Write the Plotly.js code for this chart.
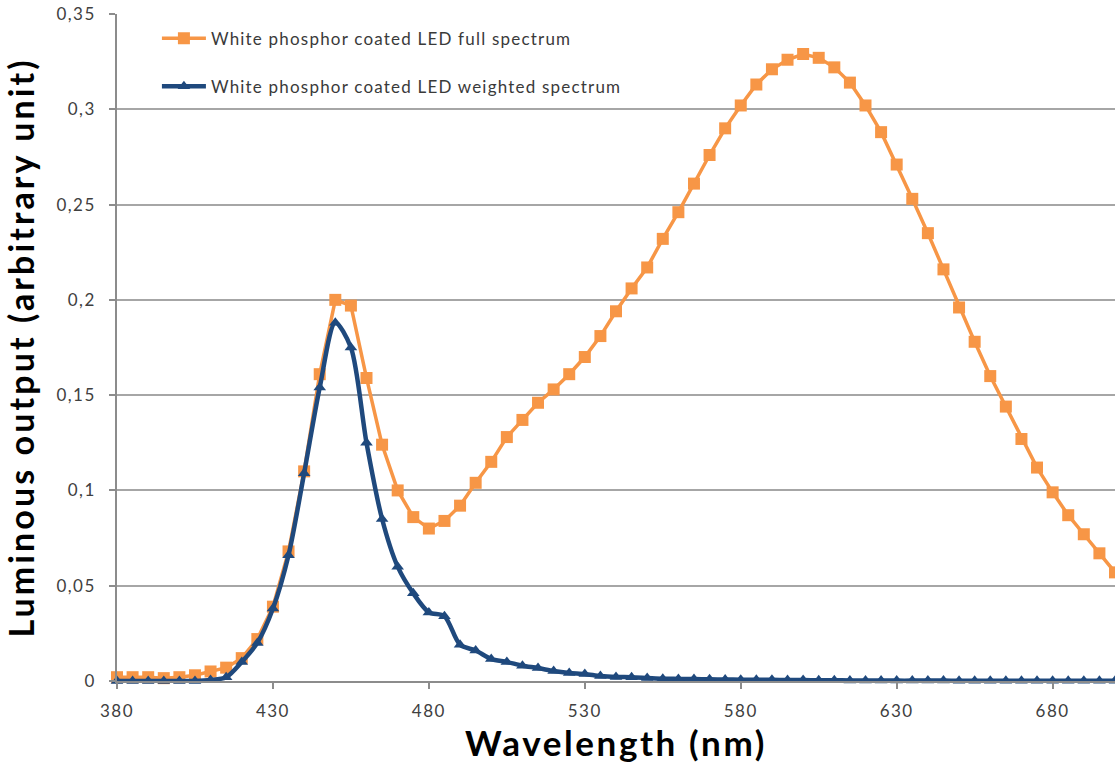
<!DOCTYPE html>
<html>
<head>
<meta charset="utf-8">
<script src="https://cdn.plot.ly/plotly-3.0.1.min.js"></script>
<style>
html,body{margin:0;padding:0;background:#fff;}
#chart{width:1115px;height:774px;}
.xtick text, .ytick text, text.xtick, text.ytick {letter-spacing: 1.5px;}
.legendtext {letter-spacing: 1.2px;}
.xtitle {letter-spacing: 2.6px;}
.ytitle {letter-spacing: 3.1px;}
</style>
</head>
<body>
<div id="chart"></div>
<script>
const wavelengths = [380,385,390,395,400,405,410,415,420,425,
  430,435,440,445,450,455,460,465,470,475,
  480,485,490,495,500,505,510,515,520,525,
  530,535,540,545,550,555,560,565,570,575,
  580,585,590,595,600,605,610,615,620,625,
  630,635,640,645,650,655,660,665,670,675,
  680,685,690,695,700];

const fullSpectrum = [0.002,0.002,0.002,0.0015,0.002,0.003,0.005,0.007,0.012,0.022,
  0.039,0.068,0.110,0.161,0.200,0.197,0.159,0.124,0.100,0.086,
  0.080,0.084,0.092,0.104,0.115,0.128,0.137,0.146,0.153,0.161,
  0.170,0.181,0.194,0.206,0.217,0.232,0.246,0.261,0.276,0.290,
  0.302,0.313,0.321,0.326,0.329,0.327,0.322,0.314,0.302,0.288,
  0.271,0.253,0.235,0.216,0.196,0.178,0.160,0.144,0.127,0.112,
  0.099,0.087,0.077,0.067,0.057];

const weightedSpectrum = [0,0,0,0,0,0,0.0005,0.002,0.010,0.020,
  0.038,0.066,0.109,0.154,0.188,0.175,0.125,0.085,0.060,0.046,
  0.036,0.034,0.019,0.016,0.0115,0.010,0.008,0.0068,0.0052,0.0042,
  0.0037,0.0026,0.0021,0.002,0.0016,0.0012,0.0011,0.0010,0.0009,0.0008,
  0.0007,0.0006,0.0006,0.0005,0.0005,0.0004,0.0004,0.0003,0.0003,0.0003,
  0.0002,0.0002,0.0002,0.0002,0.0001,0.0001,0.0001,0.0001,0.0001,0.0001,
  0.0001,0.0001,0.0001,0.0001,0.0001];

const seriesNames = ['White phosphor coated LED full spectrum', 'White phosphor coated LED weighted spectrum'];
const xTickVals = [380,430,480,530,580,630,680];
const xTickText = ['380','430','480','530','580','630','680'];

const traces = [
  {
    x: wavelengths, y: fullSpectrum, name: seriesNames[0], legendgroup: 'a',
    type: 'scatter', mode: 'lines+markers', cliponaxis: false,
    line: {color: '#F79646', width: 3.5},
    marker: {symbol: 'square', size: 12, color: '#F79646'}
  },
  {
    x: wavelengths, y: weightedSpectrum, name: seriesNames[1], legendgroup: 'b',
    type: 'scatter', mode: 'lines+markers', cliponaxis: false,
    line: {color: '#1F497D', width: 4.5, shape: 'spline', smoothing: 0.8},
    marker: {symbol: 'triangle-up', size: 11, color: '#1F497D'}
  }
];

const layout = {
  width: 1115, height: 774,
  margin: {l: 117, r: 0, t: 14, b: 93},
  paper_bgcolor: '#ffffff', plot_bgcolor: '#ffffff',
  separators: ', ',
  font: {family: 'Lato, sans-serif', color: '#404040'},
  showlegend: true,
  legend: {
    x: 0.04, y: 0.99, xanchor: 'left', yanchor: 'top',
    bgcolor: 'rgba(0,0,0,0)', borderwidth: 0,
    font: {family: 'Lato, sans-serif', size: 17, color: '#3a3a3a'},
    itemwidth: 44, tracegroupgap: 23
  },
  xaxis: {
    range: [380, 700], tickvals: xTickVals, ticktext: xTickText,
    showgrid: false, zeroline: false,
    showline: true, linecolor: '#8c8c8c', linewidth: 1.5,
    ticks: 'outside', ticklen: 6, tickcolor: '#8c8c8c', tickwidth: 1.5,
    ticklabelstandoff: 8,
    tickfont: {family: 'Lato, sans-serif', size: 17, color: '#404040'},
    title: {text: 'Wavelength (nm)', font: {family: 'Lato, sans-serif', size: 35, color: '#000000', weight: 'bold'}, standoff: 6}
  },
  yaxis: {
    range: [0, 0.35], dtick: 0.05, tick0: 0,
    showgrid: true, gridcolor: '#a6a6a6', gridwidth: 1.5,
    zeroline: false,
    showline: true, linecolor: '#8c8c8c', linewidth: 1.5,
    ticks: 'outside', ticklen: 6, tickcolor: '#8c8c8c', tickwidth: 1.5,
    ticklabelstandoff: 10,
    tickfont: {family: 'Lato, sans-serif', size: 17, color: '#404040'},
    title: {text: 'Luminous output (arbitrary unit)', font: {family: 'Lato, sans-serif', size: 34, color: '#000000', weight: 'bold'}, standoff: 12}
  }
};

Plotly.newPlot('chart', traces, layout, {displayModeBar: false, responsive: false});
</script>
</body>
</html>
